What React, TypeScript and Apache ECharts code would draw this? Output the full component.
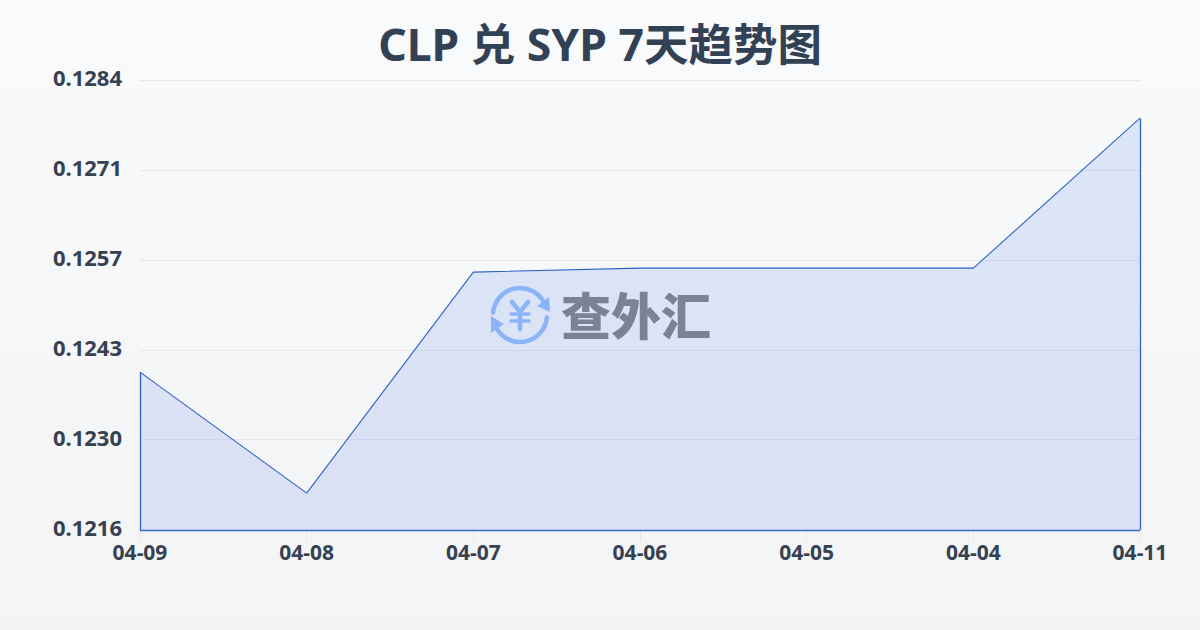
import React, { useEffect, useRef } from "react";
import * as echarts from "echarts";

const titleText = "CLP 兑 SYP 7天趋势图";
const watermarkText = "查外汇";
const categories = ["04-09", "04-08", "04-07", "04-06", "04-05", "04-04", "04-11"];
const rates = [0.12398, 0.12214, 0.1255, 0.12556, 0.12556, 0.12556, 0.12784];
const yTicks = [0.12158, 0.122952, 0.124316, 0.125684, 0.127052, 0.12842];

const FONT = '"Noto Sans", "Noto Sans CJK SC", sans-serif';
const yMin = yTicks[0];
const yMax = yTicks[yTicks.length - 1];
const last = categories.length - 1;
const edge = (a: [number, number], b: [number, number]) => [{ coord: a }, { coord: b }];
const logo = "#8ab4f8";

export default function App() {
  const ref = useRef<HTMLDivElement>(null);
  useEffect(() => {
    document.body.style.margin = "0";
    const chart = echarts.init(ref.current!, undefined, { renderer: "svg" });
    chart.setOption({
      animation: false,
      backgroundColor: {
        type: "linear", x: 0, y: 0, x2: 0, y2: 1,
        colorStops: [{ offset: 0, color: "#f8fafc" }, { offset: 1, color: "#f2f4f6" }],
      },
      title: {
        text: titleText, left: "center", top: 16,
        textStyle: { fontFamily: FONT, fontSize: 44.5, fontWeight: "bold", color: "#334155" },
      },
      grid: { left: 140, right: 60, top: 80, bottom: 100 },
      xAxis: {
        type: "category", data: categories, boundaryGap: false,
        axisLine: { show: false },
        axisTick: { show: true, length: 11, alignWithLabel: true, lineStyle: { color: "#e5e7eb", width: 1 } },
        axisLabel: { fontFamily: FONT, fontSize: 21, fontWeight: "bold", color: "#374151", margin: 11, showMinLabel: true, showMaxLabel: true, interval: 0 },
      },
      yAxis: {
        type: "value", min: yMin, max: yMax,
        axisLine: { show: false },
        axisTick: { show: false, customValues: yTicks },
        axisLabel: {
          customValues: yTicks, fontFamily: FONT, fontSize: 22, fontWeight: "bold", color: "#374151", margin: 18,
          formatter: (v: number) => v.toFixed(4),
          verticalAlign: "bottom", lineHeight: 6,
        },
        splitLine: { show: true, lineStyle: { color: "#e5e7eb", width: 1 } },
      },
      series: [{
        type: "line", data: rates, symbol: "none", smooth: false,
        lineStyle: { color: "#2f62c9", width: 1.1 },
        areaStyle: {
          opacity: 0.13,
          color: {
            type: "linear", x: 0, y: 0, x2: 0, y2: 1,
            colorStops: [{ offset: 0, color: "#2563eb" }, { offset: 1, color: "#3b55e0" }],
          },
        },
        markLine: {
          silent: true, symbol: "none", label: { show: false }, emphasis: { disabled: true },
          lineStyle: { color: "#3a69c6", width: 1.4, type: "solid" },
          data: [
            edge([categories[0], yMin], [categories[0], rates[0]]),
            edge([categories[last], yMin], [categories[last], rates[last]]),
            edge([categories[0], yMin], [categories[last], yMin]),
          ],
        },
      }],
      graphic: [
        { type: "arc", shape: { cx: 520, cy: 315, r: 27, startAngle: Math.PI * 1.03, endAngle: Math.PI * 1.86 },
          style: { stroke: logo, lineWidth: 4.5, fill: "none", lineCap: "round" }, z: 50 },
        { type: "arc", shape: { cx: 520, cy: 315, r: 27, startAngle: Math.PI * 0.03, endAngle: Math.PI * 0.86 },
          style: { stroke: logo, lineWidth: 4.5, fill: "none", lineCap: "round" }, z: 50 },
        { type: "polygon", shape: { points: [[549, 297], [550, 312], [537, 306]] }, style: { fill: logo }, z: 50 },
        { type: "polygon", shape: { points: [[491, 316], [491, 333], [504, 324]] }, style: { fill: logo }, z: 50 },
        { type: "polyline", shape: { points: [[512, 302], [520, 312], [528, 302]] }, style: { stroke: logo, lineWidth: 4.5, fill: "none", lineCap: "round" }, z: 50 },
        { type: "line", shape: { x1: 520, y1: 312, x2: 520, y2: 329 }, style: { stroke: logo, lineWidth: 4.5, lineCap: "round" }, z: 50 },
        { type: "line", shape: { x1: 511, y1: 314, x2: 529, y2: 314 }, style: { stroke: logo, lineWidth: 3.5, lineCap: "round" }, z: 50 },
        { type: "line", shape: { x1: 511, y1: 321, x2: 529, y2: 321 }, style: { stroke: logo, lineWidth: 3.5, lineCap: "round" }, z: 50 },
        { type: "text", x: 636, y: 313, z: 50,
          style: { text: watermarkText, fill: "#7a8294", font: '900 50px "Noto Sans CJK SC"', align: "center", verticalAlign: "middle" } },
      ],
    });
    return () => chart.dispose();
  }, []);
  return <div ref={ref} style={{ width: 1200, height: 630 }} />;
}
